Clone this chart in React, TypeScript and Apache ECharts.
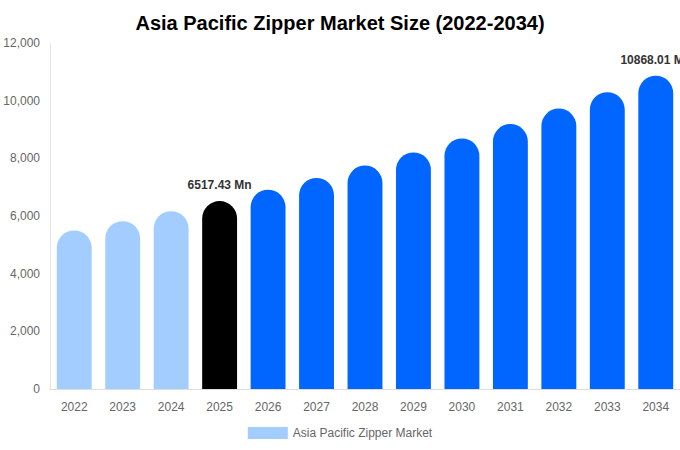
import React, { useEffect, useRef } from "react";
import * as echarts from "echarts";

const years = ["2022", "2023", "2024", "2025", "2026", "2027", "2028", "2029", "2030", "2031", "2032", "2033", "2034"];
const values = [5500, 5819, 6168, 6517.43, 6912, 7320, 7750, 8203, 8692, 9190, 9727, 10296, 10868.01];
const barColors = ["#a3cdff", "#a3cdff", "#a3cdff", "#000000", "#0066ff", "#0066ff", "#0066ff", "#0066ff", "#0066ff", "#0066ff", "#0066ff", "#0066ff", "#0066ff"];
const labelled = [false, false, false, true, false, false, false, false, false, false, false, false, true];
const yTicks = { min: 0, max: 12000, interval: 2000 };

export default function App() {
  const ref = useRef<HTMLDivElement>(null);
  useEffect(() => {
    const chart = echarts.init(ref.current!, null, { renderer: "svg" });
    chart.setOption({
      animation: false,
      textStyle: { fontFamily: "Liberation Sans, Arial, sans-serif" },
      title: {
        text: "Asia Pacific Zipper Market Size (2022-2034)",
        left: "center",
        top: 8,
        textStyle: { fontSize: 20, fontWeight: "bold", color: "#000" },
      },
      legend: {
        bottom: 6,
        left: "center",
        itemWidth: 40,
        itemHeight: 12,
        itemGap: 6,
        icon: "rect",
        textStyle: { color: "#666", fontSize: 12 },
        data: [{ name: "Asia Pacific Zipper Market", itemStyle: { color: "#a3cdff" } }],
      },
      grid: {
        left: 50,
        right: 0,
        top: 43,
        bottom: 61,
        containLabel: false,
        outerBoundsMode: "none",
      },
      xAxis: {
        type: "category",
        data: years,
        axisLine: { show: true, lineStyle: { color: "#ddd" } },
        axisTick: { show: false },
        axisLabel: { color: "#666", fontSize: 12, margin: 12 },
      },
      yAxis: {
        type: "value",
        min: yTicks.min,
        max: yTicks.max,
        interval: yTicks.interval,
        axisLine: { show: true, lineStyle: { color: "#e6e6e6" } },
        axisTick: { show: false },
        splitLine: { show: false },
        axisLabel: {
          color: "#666",
          fontSize: 12,
          margin: 10,
          formatter: (v: number) => v.toLocaleString("en-US"),
        },
      },
      series: [
        {
          name: "Asia Pacific Zipper Market",
          type: "bar",
          barWidth: "72%",
          data: values.map((v, i) => ({
            value: v,
            itemStyle: { color: barColors[i], borderRadius: [50, 50, 0, 0] },
            label: {
              show: labelled[i],
              position: "top",
              distance: 10,
              formatter: (p: any) => p.value.toFixed(2) + " Mn",
              color: "#333",
              fontWeight: "bold",
              fontSize: 12,
            },
          })),
        },
      ],
    });
    return () => chart.dispose();
  }, []);
  return (
    <div
      ref={ref}
      style={{ position: "absolute", left: 0, top: 0, width: 680, height: 450 }}
    />
  );
}
